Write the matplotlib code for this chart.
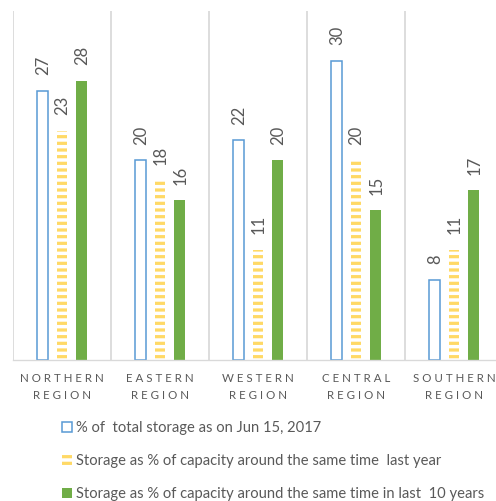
import matplotlib.pyplot as plt
import numpy as np

regions = ['N O R T H E R N\nR E G I O N', 'E A S T E R N\nR E G I O N',
           'W E S T E R N\nR E G I O N', 'C E N T R A L\nR E G I O N',
           'S O U T H E R N\nR E G I O N']
current = [27, 20, 22, 30, 8]
last_year = [23, 18, 11, 20, 11]
last_10yrs = [28, 16, 20, 15, 17]

series_names = ['% of  total storage as on Jun 15, 2017',
                'Storage as % of capacity around the same time  last year',
                'Storage as % of capacity around the same time in last  10 years']

grey = '#595959'
plt.rcParams['font.family'] = ['Lato', 'DejaVu Sans']
plt.rcParams['hatch.linewidth'] = 2.9

fig = plt.figure(figsize=(6.2, 6.2625), dpi=80)
ax = fig.add_axes([0.0262, 0.2824, 0.988, 0.6956])

x = np.arange(len(regions))
width = 0.11
gap = 0.2

b1 = ax.bar(x - gap, current, width, facecolor='white', edgecolor='#5B9BD5',
            linewidth=1.4, label=series_names[0])
b2 = ax.bar(x, last_year, width, facecolor='none', edgecolor='#FFD966',
            linewidth=0, hatch='--', label=series_names[1])
b3 = ax.bar(x + gap, last_10yrs, width, color='#70AD47', label=series_names[2])

# value labels, rotated, sitting above each bar
for bars, vals in [(b1, current), (b2, last_year), (b3, last_10yrs)]:
    for rect, v in zip(bars, vals):
        ax.annotate(str(v), (rect.get_x() + rect.get_width() / 2, v),
                    xytext=(0.5, 14), textcoords='offset points',
                    rotation=90, ha='center', va='bottom',
                    fontsize=15, color=grey)

ax.set_xlim(-0.5, len(regions) - 0.5)
ax.set_ylim(0, 35)
ax.set_yticks([])
ax.set_xticks(x, regions)
ax.set_xticks(np.arange(len(regions) + 1) - 0.5, minor=True)
ax.tick_params(axis='x', which='both', length=0, pad=12)
ax.tick_params(axis='x', which='major', labelsize=10.4, labelcolor=grey)
plt.setp(ax.get_xticklabels(), linespacing=1.65)
ax.grid(axis='x', which='minor', color='#D9D9D9', linewidth=1.6)
ax.set_axisbelow(True)
for side in ['top', 'right', 'left']:
    ax.spines[side].set_visible(False)
ax.spines['bottom'].set_color('#D9D9D9')
ax.spines['bottom'].set_linewidth(1.2)

leg = fig.legend(loc='upper left', bbox_to_anchor=(0.125, 1 - 421 / 501),
                 frameon=False, fontsize=13.3, labelcolor=grey,
                 handlelength=0.7, handleheight=0.7, handletextpad=0.25,
                 labelspacing=1.3, borderpad=0, borderaxespad=0)

fig.savefig('out.png', dpi=80)
